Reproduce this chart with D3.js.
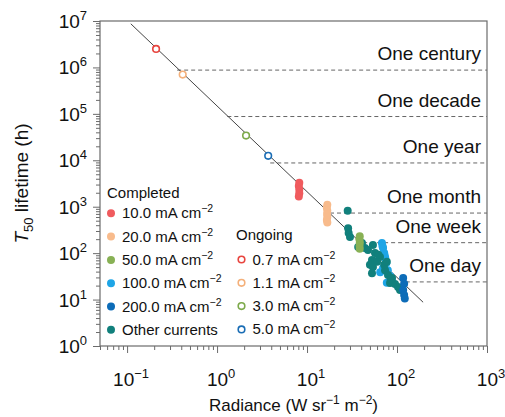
<!DOCTYPE html>
<html>
<head>
<meta charset="utf-8">
<script src="https://cdn.jsdelivr.net/npm/d3@7"></script>
<style>
  html, body { margin: 0; padding: 0; background: #fff; }
  svg { display: block; font-family: "Liberation Sans", Arial, Helvetica, sans-serif; }
</style>
</head>
<body>
<svg id="chart" width="505" height="417"></svg>
<script>
"use strict";

// ─── Data ────────────────────────────────────────────────────────────────────
const xMajor = [0.1, 1, 10, 100, 1000];
const yMajor = [1, 10, 100, 1e3, 1e4, 1e5, 1e6, 1e7];

// Completed devices: [radiance W sr-1 m-2, T50 h]
const completed10 = [[8.2, 3300], [8.1, 2800], [8.2, 2350], [8.2, 1950], [8.1, 1650]];
const completed20 = [[16.8, 1100], [16.6, 950], [16.8, 820], [16.7, 700], [16.8, 600], [16.6, 520], [16.8, 455]];
const completed50 = [[38.5, 230], [38.2, 200], [38.6, 170], [38.3, 145], [38.5, 125]];
const completed100 = [[68, 166], [70, 129], [72, 101], [74, 79], [76, 61], [70, 48], [79, 43],
  [84, 32], [88, 25], [77, 23], [65, 39], [69, 140], [73, 88]];
const completed200 = [[117, 29], [120, 22], [117, 16], [120, 12.5], [122, 10.5]];
const otherCurrents = [[28.3, 820], [28.6, 345], [29, 272], [30, 223], [44, 129], [47.6, 117],
  [54, 150], [57, 101], [52.7, 71], [60, 65], [64.7, 83], [50, 56], [54, 50], [52.7, 37],
  [73.6, 43], [79.4, 34], [88, 29], [83.6, 22.8], [95, 21.7], [102.6, 18.6], [108, 16],
  [72, 56], [40.8, 166], [37, 135], [77, 65], [62, 92], [85, 27]];

// Ongoing devices (hollow markers)
const ongoing07 = [[0.21, 2.5e6]];
const ongoing11 = [[0.415, 7.0e5]];
const ongoing30 = [[2.1, 3.4e4]];
const ongoing50 = [[3.7, 1.25e4]];

// Fitted trend line end points
const fitLine = [[0.11, 8.7e6], [195, 8.75]];

// Lifetime milestones: label, hours, radiance where the dashed line begins
const milestoneLabels = ["One century", "One decade", "One year", "One month", "One week", "One day"];
const milestoneHours = [876000, 87600, 8760, 730, 168, 24];
const milestoneStart = [0.36, 1.3, 3.9, 18, 42, 125];

const completedLabels = ["10.0", "20.0", "50.0", "100.0", "200.0"];
const ongoingLabels = ["0.7", "1.1", "3.0", "5.0"];

// ─── Styling ─────────────────────────────────────────────────────────────────
const completedColors = ["#f05b5e", "#f8bb8c", "#88b155", "#1ea5e6", "#0d6cb8", "#11807c"];
const ongoingColors = ["#e8453f", "#f4b07a", "#7daa4b", "#1a6db5"];

const svg = d3.select("#chart");
const margin = { left: 100, right: 18, top: 21, bottom: 71 };
const W = 505, H = 417;

const x = d3.scaleLog().domain([0.05, 1000]).range([margin.left, W - margin.right]);
const y = d3.scaleLog().domain([1, 1e7]).range([H - margin.bottom, margin.top]);

const frameColor = "#6b6b6b";

// Minor ticks: 2..9 × each decade
function minorTicks(lo, hi) {
  const out = [];
  for (let e = Math.floor(Math.log10(lo)); e <= Math.ceil(Math.log10(hi)); e++) {
    for (let m = 2; m <= 9; m++) {
      const v = m * Math.pow(10, e);
      if (v >= lo && v <= hi) out.push(v);
    }
  }
  return out;
}

function styleAxis(g) {
  g.select(".domain").remove();
  g.selectAll(".tick line").attr("stroke", frameColor).attr("stroke-width", 1);
  g.selectAll(".tick text").remove();
}

const x0 = H - margin.bottom;
svg.append("g").attr("transform", `translate(0,${x0})`)
  .call(d3.axisBottom(x).tickValues(minorTicks(0.05, 1000)).tickSize(4).tickFormat(""))
  .call(styleAxis);
svg.append("g").attr("transform", `translate(0,${x0})`)
  .call(d3.axisBottom(x).tickValues(xMajor).tickSize(7).tickFormat(""))
  .call(styleAxis);
svg.append("g").attr("transform", `translate(${margin.left},0)`)
  .call(d3.axisLeft(y).tickValues(minorTicks(1, 1e7)).tickSize(4).tickFormat(""))
  .call(styleAxis);
svg.append("g").attr("transform", `translate(${margin.left},0)`)
  .call(d3.axisLeft(y).tickValues(yMajor).tickSize(7).tickFormat(""))
  .call(styleAxis);

// Frame
svg.append("rect")
  .attr("x", margin.left).attr("y", margin.top)
  .attr("width", W - margin.left - margin.right)
  .attr("height", H - margin.top - margin.bottom)
  .attr("fill", "none").attr("stroke", frameColor).attr("stroke-width", 1.2);

// Power-of-ten labels
function powLabel(sel, v) {
  const e = Math.round(Math.log10(v));
  sel.append("tspan").text("10");
  sel.append("tspan").attr("dy", -8).attr("font-size", 13).text(e < 0 ? "\u2212" + (-e) : e);
}

xMajor.forEach(v => {
  const t = svg.append("text")
    .attr("x", x(v) + 4).attr("y", x0 + 40)
    .attr("text-anchor", "middle").attr("font-size", 19).attr("fill", "#111");
  powLabel(t, v);
});
yMajor.forEach(v => {
  const t = svg.append("text")
    .attr("x", margin.left - 13).attr("y", y(v) + 7)
    .attr("text-anchor", "end").attr("font-size", 19).attr("fill", "#111");
  powLabel(t, v);
});

// Axis titles
const xt = svg.append("text")
  .attr("x", (margin.left + W - margin.right) / 2).attr("y", 411)
  .attr("text-anchor", "middle").attr("font-size", 17).attr("fill", "#111");
xt.append("tspan").text("Radiance (W sr");
xt.append("tspan").attr("dy", -7).attr("font-size", 12).text("\u22121");
xt.append("tspan").attr("dy", 7).text(" m");
xt.append("tspan").attr("dy", -7).attr("font-size", 12).text("\u22122");
xt.append("tspan").attr("dy", 7).text(")");

const yt = svg.append("text")
  .attr("transform", `translate(28,${(margin.top + x0) / 2}) rotate(-90)`)
  .attr("text-anchor", "middle").attr("font-size", 19).attr("fill", "#111");
yt.append("tspan").attr("font-style", "italic").text("T");
yt.append("tspan").attr("dy", 5).attr("font-size", 13).text("50");
yt.append("tspan").attr("dy", -5).text(" lifetime (h)");

// Milestone dashed lines + labels
milestoneHours.forEach((h, i) => {
  svg.append("line")
    .attr("x1", x(milestoneStart[i])).attr("x2", x(1000))
    .attr("y1", y(h)).attr("y2", y(h))
    .attr("stroke", "#666").attr("stroke-width", 1).attr("stroke-dasharray", "4,3");
  svg.append("text")
    .attr("x", W - margin.right - 6).attr("y", y(h) - 10)
    .attr("text-anchor", "end").attr("font-size", 19).attr("fill", "#111")
    .text(milestoneLabels[i]);
});

// Fit line
svg.append("line")
  .attr("x1", x(fitLine[0][0])).attr("y1", y(fitLine[0][1]))
  .attr("x2", x(fitLine[1][0])).attr("y2", y(fitLine[1][1]))
  .attr("stroke", "#444").attr("stroke-width", 1);

// Points
function filled(data, color) {
  svg.append("g").selectAll("circle").data(data).join("circle")
    .attr("cx", d => x(d[0])).attr("cy", d => y(d[1])).attr("r", 4)
    .attr("fill", color);
}
function hollow(data, color) {
  svg.append("g").selectAll("circle").data(data).join("circle")
    .attr("cx", d => x(d[0])).attr("cy", d => y(d[1])).attr("r", 3.3)
    .attr("fill", "#fff").attr("stroke", color).attr("stroke-width", 1.6);
}
filled(completed10, completedColors[0]);
filled(completed20, completedColors[1]);
filled(completed100, completedColors[3]);
filled(otherCurrents, completedColors[5]);
filled(completed50, completedColors[2]);
filled(completed200, completedColors[4]);
hollow(ongoing07, ongoingColors[0]);
hollow(ongoing11, ongoingColors[1]);
hollow(ongoing30, ongoingColors[2]);
hollow(ongoing50, ongoingColors[3]);

// Legend
function legendRow(lx, ly, label, color, isHollow, withUnit) {
  if (isHollow) {
    svg.append("circle").attr("cx", lx).attr("cy", ly).attr("r", 3.3)
      .attr("fill", "#fff").attr("stroke", color).attr("stroke-width", 1.6);
  } else {
    svg.append("circle").attr("cx", lx).attr("cy", ly).attr("r", 4).attr("fill", color);
  }
  const t = svg.append("text").attr("x", lx + 11).attr("y", ly + 5)
    .attr("font-size", 15).attr("fill", "#111");
  if (withUnit) {
    t.append("tspan").text(label + " mA cm");
    t.append("tspan").attr("dy", -6).attr("font-size", 10.5).text("\u22122");
  } else {
    t.text(label);
  }
}

const rowH = 23.3;
svg.append("text").attr("x", 107).attr("y", 198).attr("font-size", 15).attr("fill", "#111").text("Completed");
completedLabels.forEach((l, i) => legendRow(111, 213.3 + i * rowH, l, completedColors[i], false, true));
legendRow(111, 213.3 + 5 * rowH, "Other currents", completedColors[5], false, false);

svg.append("text").attr("x", 236).attr("y", 240).attr("font-size", 15).attr("fill", "#111").text("Ongoing");
ongoingLabels.forEach((l, i) => legendRow(241.5, 259.5 + i * rowH, l, ongoingColors[i], true, true));
</script>
</body>
</html>
